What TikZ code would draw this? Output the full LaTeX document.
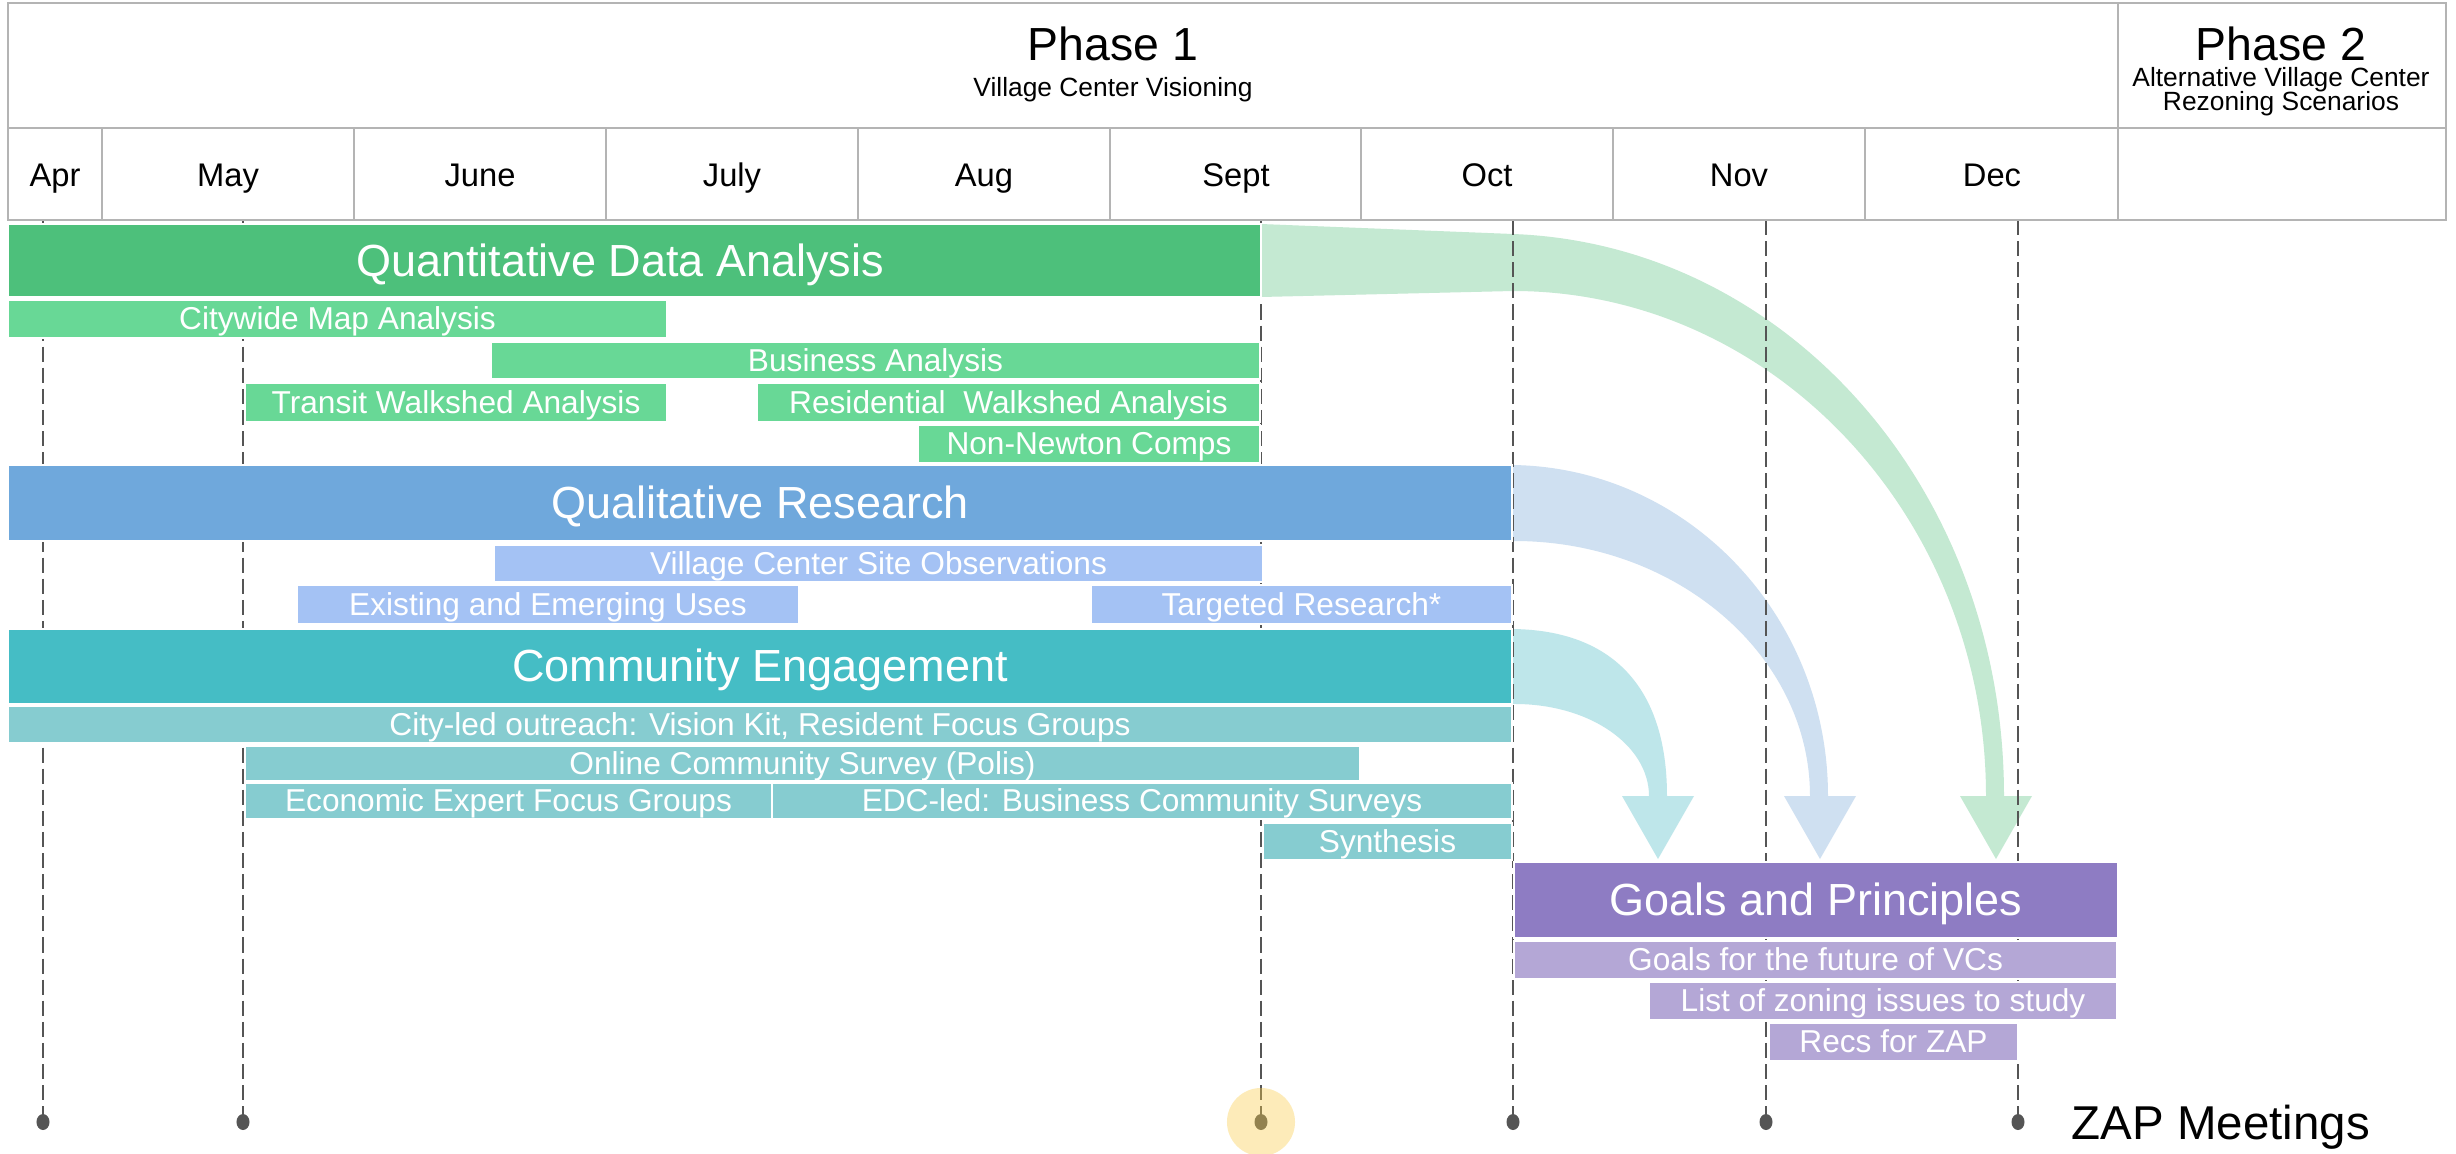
\documentclass[tikz,border=0pt]{standalone}
\usepackage{fontspec}
\setmainfont{Liberation Sans}
\usetikzlibrary{shapes.geometric}
\pgfdeclarelayer{bg}
\pgfsetlayers{bg,main}
\definecolor{qmain}{RGB}{77,192,123}
\definecolor{qsub}{RGB}{104,216,150}
\definecolor{qarr}{RGB}{196,233,210}
\definecolor{rmain}{RGB}{111,168,220}
\definecolor{rsub}{RGB}{164,194,244}
\definecolor{rarr}{RGB}{207,224,241}
\definecolor{cmain}{RGB}{69,189,197}
\definecolor{csub}{RGB}{134,204,208}
\definecolor{carr}{RGB}{190,230,234}
\definecolor{gmain}{RGB}{142,124,195}
\definecolor{gsub}{RGB}{180,167,214}
\definecolor{hdrline}{RGB}{180,180,180}
\definecolor{zline}{RGB}{85,85,85}
\definecolor{hlyellow}{RGB}{250,205,71}
\newcommand\tbox[7]{\node[#2, minimum width={(#5-#3)*0.01cm}, minimum height={(#6-#4)*0.01cm}, anchor=north west] (#1) at (#3,#4) {#7};}
\tikzset{
  barbase/.style={rectangle, inner sep=0pt, outer sep=0pt, draw=white, line width=0.6pt, text=white},
  mainbar/.style={barbase, font=\fontsize{12.8}{14}\selectfont, text height=11.5pt, text depth=2.7pt},
  subbar/.style={barbase, font=\fontsize{9}{10}\selectfont, text height=8.1pt, text depth=1.9pt},
  mtitle/.style={inner sep=0pt, text=white, font=\fontsize{12.8}{14}\selectfont, text height=11.5pt, text depth=2.7pt},
  quantmain/.style={mainbar, fill=qmain}, quantsub/.style={subbar, fill=qsub},
  qualmain/.style={mainbar, fill=rmain}, qualsub/.style={subbar, fill=rsub},
  commmain/.style={mainbar, fill=cmain}, commsub/.style={subbar, fill=csub},
  goalmain/.style={mainbar, fill=gmain}, goalsub/.style={subbar, fill=gsub},
  hdr/.style={draw=hdrline, line width=0.8pt},
  phase/.style={anchor=base, inner sep=0pt, font=\fontsize{13.2}{15}\selectfont},
  phsub/.style={anchor=base, inner sep=0pt, font=\fontsize{7.5}{8}\selectfont},
  month/.style={anchor=base, inner sep=0pt, font=\fontsize{9.3}{11}\selectfont},
  zdash/.style={draw=zline, line width=0.75pt, dash pattern=on 4.3pt off 1.7pt},
  zdot/.style={ellipse, fill=zline, inner sep=0pt, minimum width=0.13cm, minimum height=0.16cm},
  hilite/.style={circle, fill=hlyellow, fill opacity=0.38, inner sep=0pt, minimum size=0.68cm},
  zaptext/.style={anchor=base west, inner sep=0pt, font=\fontsize{13.5}{15}\selectfont}
}
\begin{document}
\begin{tikzpicture}[x=0.01cm,y=-0.01cm]
\useasboundingbox (0,0) rectangle (2456,1154);
\begin{pgfonlayer}{bg}\fill[white] (0,0) rectangle (2456,1154);\end{pgfonlayer}

% header
\draw[hdr] (8,3) rectangle (2446,220);
\draw[hdr] (8,128) -- (2446,128);
\draw[hdr] (2118,3) -- (2118,220);
\foreach \x in {102,354,606,858,1110,1361,1613,1865}{\draw[hdr] (\x,128) -- (\x,220);}
\node[phase] (ph1) at (1113,60) {Phase 1};
\node[phsub] (ph1s) at (1113,96) {Village Center Visioning};
\node[phase] (ph2) at (2281,60) {Phase 2};
\node[phsub] (ph2a) at (2281,86) {Alternative Village Center};
\node[phsub] (ph2b) at (2281,110) {Rezoning Scenarios};
\node[month] (mapr) at (55,186) {Apr};
\node[month] (mmay) at (228,186) {May};
\node[month] (mjun) at (480,186) {June};
\node[month] (mjul) at (732,186) {July};
\node[month] (maug) at (984,186) {Aug};
\node[month] (msep) at (1236,186) {Sept};
\node[month] (moct) at (1487,186) {Oct};
\node[month] (mnov) at (1739,186) {Nov};
\node[month] (mdec) at (1992,186) {Dec};

% bars
\tbox{quant}{quantmain}{8}{224}{1261}{297}{}
\node[mtitle] (quantt) at (620,261) {Quantitative Data Analysis};
\tbox{city}{quantsub}{8}{300}{667}{338}{Citywide Map Analysis}
\tbox{busi}{quantsub}{491}{342}{1260}{379}{Business Analysis}
\tbox{transit}{quantsub}{245}{383}{667}{422}{Transit Walkshed Analysis}
\tbox{resid}{quantsub}{757}{383}{1260}{422}{Residential\ \ Walkshed Analysis}
\tbox{nonnew}{quantsub}{918}{425}{1260}{463}{Non-Newton Comps}
\tbox{qual}{qualmain}{8}{465}{1512}{541}{Qualitative Research}
\tbox{vcso}{qualsub}{494}{545}{1263}{582}{Village Center Site Observations}
\tbox{exist}{qualsub}{297}{585}{799}{624}{Existing and Emerging Uses}
\tbox{target}{qualsub}{1091}{585}{1512}{624}{Targeted Research*}
\tbox{comm}{commmain}{8}{629}{1512}{704}{Community Engagement}
\tbox{cityled}{commsub}{8}{706}{1512}{743}{City-led outreach: Vision Kit, Resident Focus Groups}
\tbox{online}{commsub}{245}{746}{1360}{779}{Online Community Survey (Polis)}
\tbox{econ}{commsub}{245}{783}{772}{819}{Economic Expert Focus Groups}
\tbox{edc}{commsub}{772}{783}{1512}{819}{EDC-led: Business Community Surveys}
\tbox{synth}{commsub}{1263}{823}{1512}{860}{Synthesis}
\tbox{goals}{goalmain}{1514}{862}{2118}{938}{Goals and Principles}
\tbox{gfut}{goalsub}{1514}{941}{2117}{979}{Goals for the future of VCs}
\tbox{glist}{goalsub}{1649}{982}{2117}{1020}{List of zoning issues to study}
\tbox{grecs}{goalsub}{1769}{1023}{2018}{1061}{Recs for ZAP}

% ZAP meeting markers
\foreach \i/\x in {1/43,2/243,3/1261,4/1513,5/1766,6/2018}{
  \coordinate (top\i) at (\x,220);
  \node[zdot] (dot\i) at (\x,1122) {};
}
\node[hilite] (hlt) at (dot3) {};
\node[zaptext] (zapm) at (2071,1139) {ZAP Meetings};

\begin{pgfonlayer}{bg}
% flow arrows
\fill[qarr] (quant.north east) -- (1513,234) .. controls (1784,244) and (2004,486) .. (2004,796)
  -- (2032,796) -- (1996,859) -- (1960,796) -- (1986,796)
  .. controls (1986,517) and (1773,291) .. (1513,291) -- (quant.south east) -- cycle;
\fill[rarr] (qual.north east) .. controls (1686,467) and (1828,614) .. (1828,796)
  -- (1856,796) -- (1820,859) -- (1784,796) -- (1810,796)
  .. controls (1810,655) and (1676,540) .. (qual.south east) -- cycle;
\fill[carr] (comm.north east) .. controls (1613,630) and (1667,688) .. (1667,796)
  -- (1694,796) -- (1658,859) -- (1622,796) -- (1649,796)
  .. controls (1649,745) and (1589,703) .. (comm.south east) -- cycle;
\foreach \i in {1,...,6}{\draw[zdash] (top\i) -- (dot\i.center);}
\end{pgfonlayer}
\end{tikzpicture}
\end{document}
